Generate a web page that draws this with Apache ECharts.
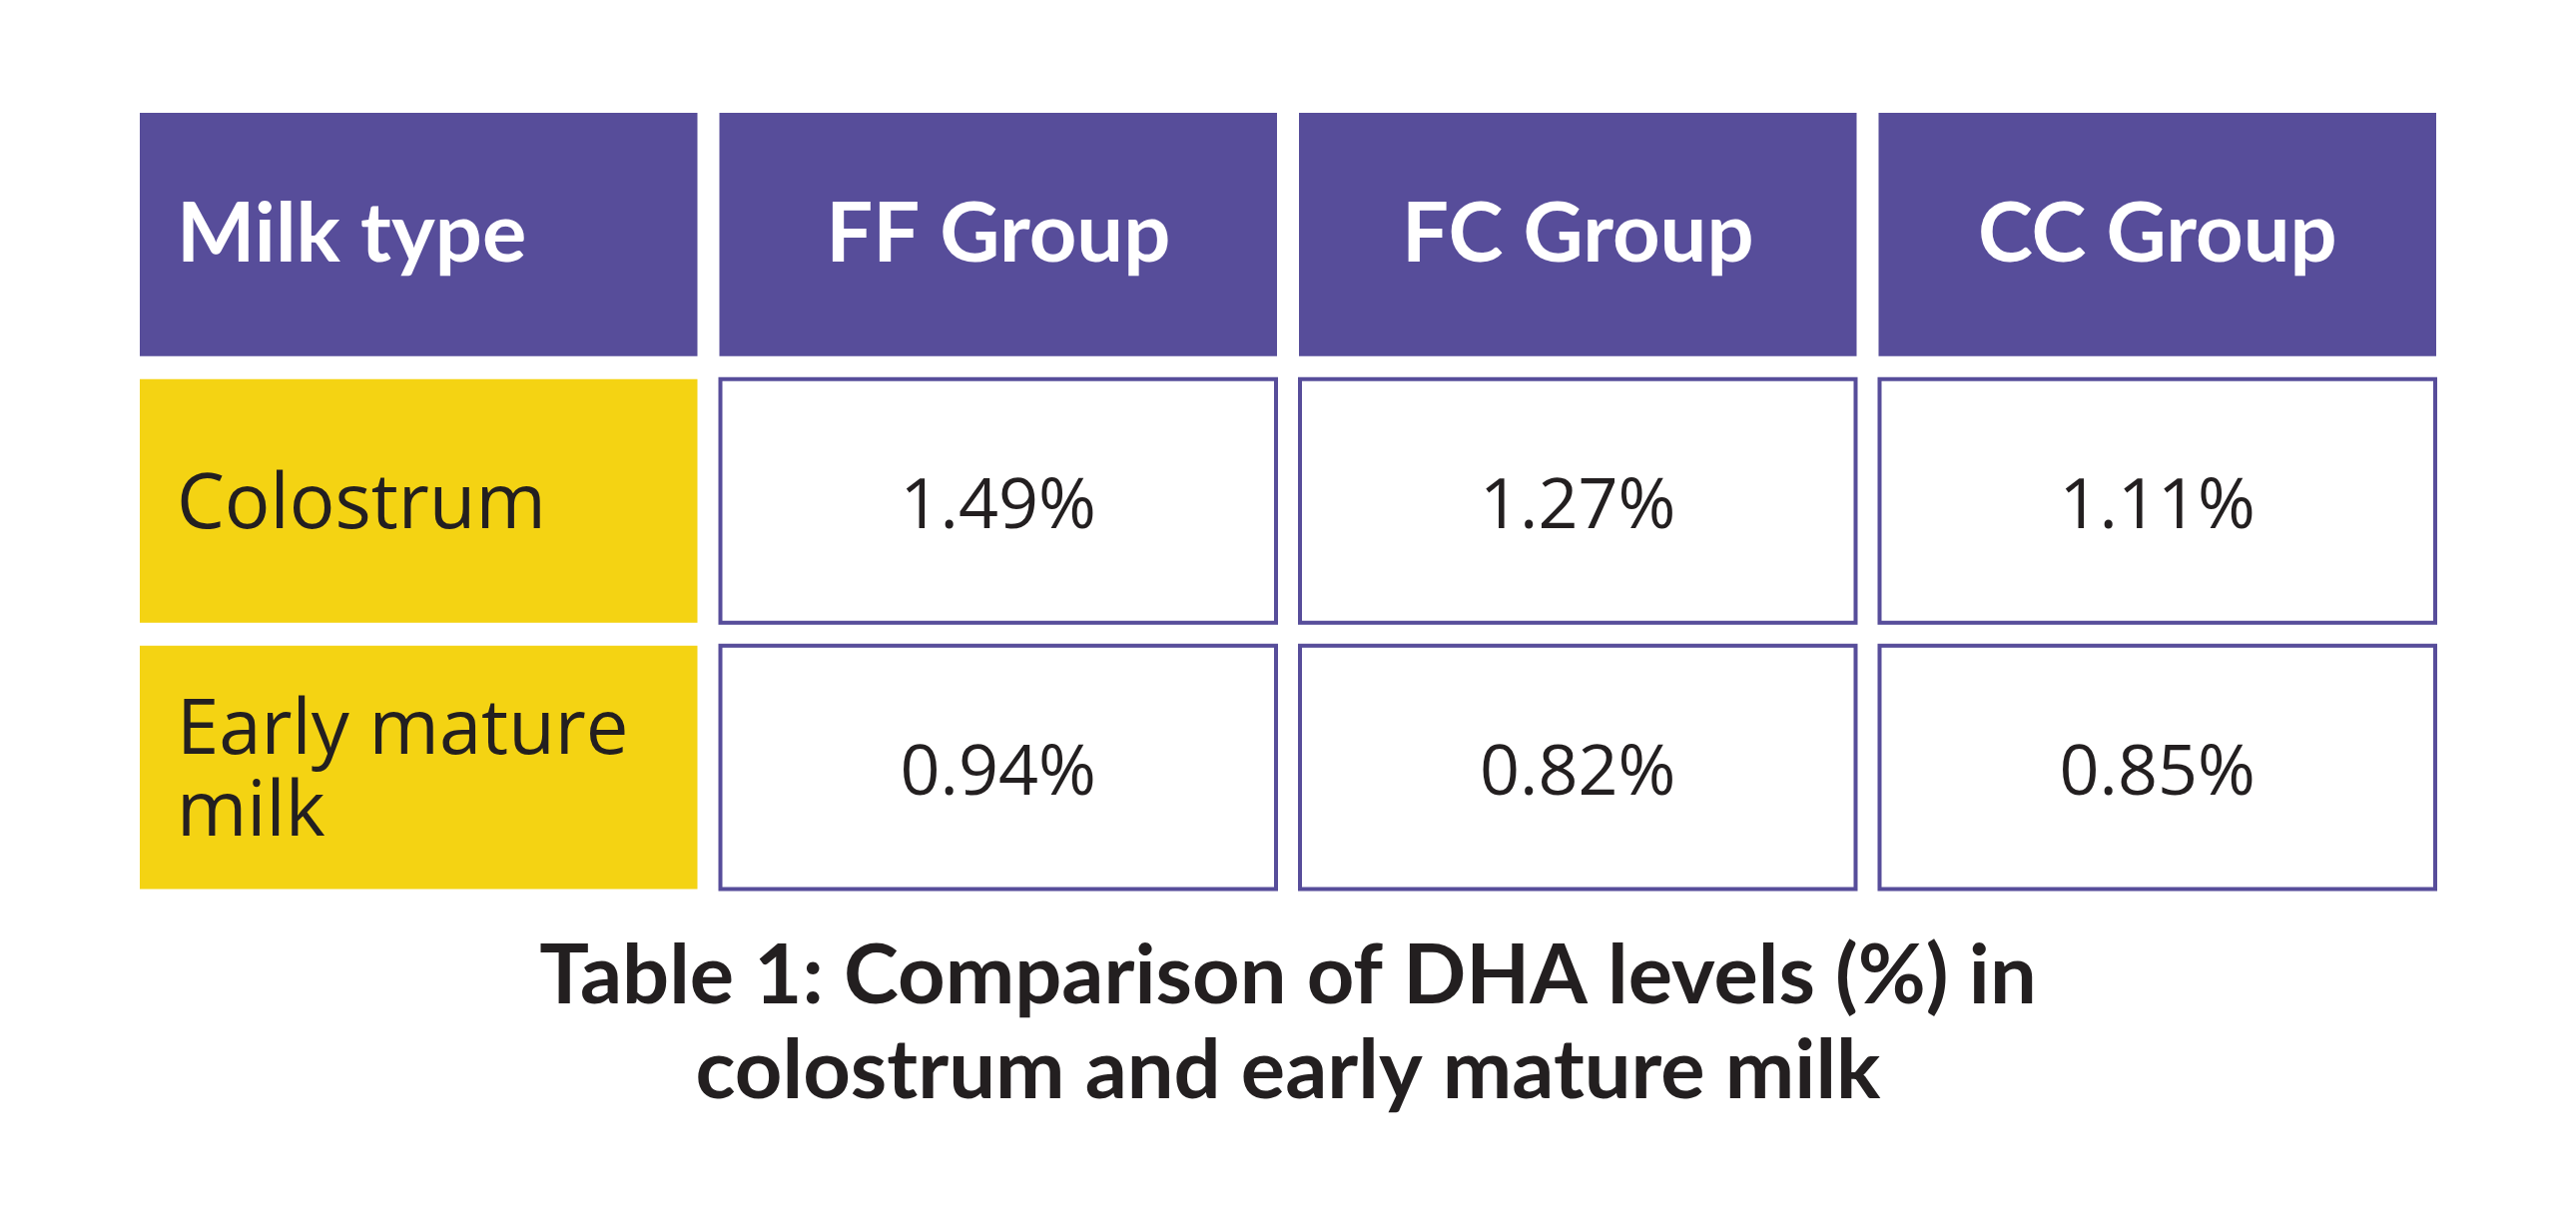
<!DOCTYPE html>
<html>
<head>
<meta charset="utf-8">
<script src="https://cdn.jsdelivr.net/npm/echarts@6/dist/echarts.min.js"></script>
<style>html,body{margin:0;padding:0;background:#fff}#c{width:2580px;height:1231px}</style>
</head>
<body>
<div id="c"></div>
<script>
const columns = ['Milk type', 'FF Group', 'FC Group', 'CC Group'];
const rowLabels = ['Colostrum', 'Early mature\nmilk'];
const colostrum = [1.49, 1.27, 1.11];
const earlyMature = [0.94, 0.82, 0.85];
const titleText = 'Table 1: Comparison of DHA levels (%) in\ncolostrum and early mature milk';

const PURPLE = '#574d9a';
const YELLOW = '#f4d313';
const DARK = '#231f20';

const rowsKeys = ['header', 'r0', 'r1'];
const cells = [];
columns.forEach((c, i) => cells.push([i, 0, c, 'header']));
rowLabels.forEach((r, j) => cells.push([0, j + 1, r, 'label']));
[colostrum, earlyMature].forEach((arr, j) => {
  arr.forEach((v, i) => cells.push([i + 1, j + 1, v.toFixed(2) + '%', 'value']));
});

const chart = echarts.init(document.getElementById('c'), null, {renderer: 'canvas'});
chart.setOption({
  backgroundColor: '#ffffff',
  animation: false,
  title: {
    text: titleText,
    left: 'center',
    top: 931,
    padding: 0,
    textStyle: {
      fontFamily: 'Lato',
      fontWeight: 'bold',
      fontSize: 83,
      lineHeight: 95,
      color: DARK
    }
  },
  grid: {left: 129, right: 129, top: 101.5, bottom: 329},
  xAxis: {type: 'category', data: columns, show: false},
  yAxis: {type: 'category', data: rowsKeys, inverse: true, show: false},
  series: [{
    type: 'custom',
    data: cells,
    renderItem: function (params, api) {
      const ci = api.value(0), ri = api.value(1);
      const kind = cells[params.dataIndex][3];
      const text = cells[params.dataIndex][2];
      const p = api.coord([ci, ri]);
      const s = api.size([1, 1]);
      const w = s[0] - 22, h = s[1] - 23;
      const x0 = p[0] - w / 2, y0 = p[1] - h / 2;
      let rect, txt;
      if (kind === 'header') {
        rect = {type: 'rect', shape: {x: x0, y: y0, width: w, height: h}, style: {fill: PURPLE}};
        txt = {type: 'text', style: {
          text: text, x: ci === 0 ? x0 + 37 : p[0], y: p[1],
          align: ci === 0 ? 'left' : 'center', verticalAlign: 'middle',
          fill: '#ffffff', fontFamily: 'Lato', fontWeight: 'bold', fontSize: 83
        }};
      } else if (kind === 'label') {
        rect = {type: 'rect', shape: {x: x0, y: y0, width: w, height: h}, style: {fill: YELLOW}};
        txt = {type: 'text', style: {
          text: text, x: x0 + 37, y: p[1] + 6,
          align: 'left', verticalAlign: 'middle',
          fill: DARK, fontFamily: 'Open Sans', fontWeight: 'normal', fontSize: 76, lineHeight: 82
        }};
      } else {
        rect = {type: 'rect', shape: {x: x0 + 1, y: y0, width: w - 2, height: h}, style: {fill: '#ffffff', stroke: PURPLE, lineWidth: 4}};
        txt = {type: 'text', style: {
          text: text, x: p[0], y: p[1] + 7,
          align: 'center', verticalAlign: 'middle',
          fill: DARK, fontFamily: 'Open Sans', fontWeight: 'normal', fontSize: 70
        }};
      }
      return {type: 'group', children: [rect, txt]};
    }
  }]
});
</script>
</body>
</html>
